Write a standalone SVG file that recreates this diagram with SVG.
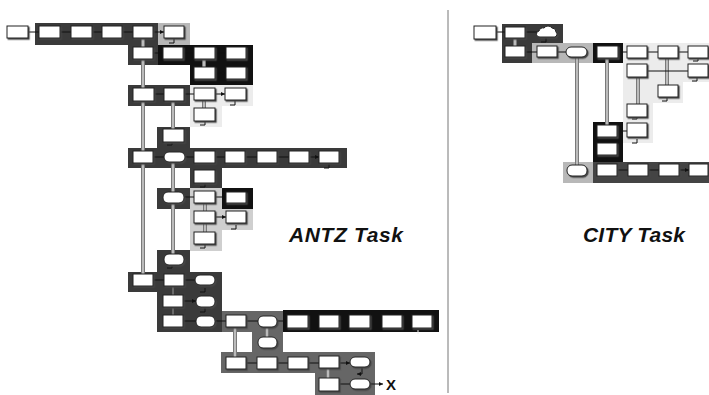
<svg xmlns="http://www.w3.org/2000/svg" width="709" height="395" viewBox="0 0 709 395">
<style>
.b{fill:#fff;stroke:#222;stroke-width:1;filter:url(#sh)}
.o{fill:#fff;stroke:#222;stroke-width:1;filter:url(#sh)}
.dk{fill:#3a3a3a}.bk{fill:#111}.lg{fill:#b8b8b8}.vl{fill:#ececec}.mg{fill:#666}.ml{fill:#cfcfcf}.d2{fill:#444}
.a{stroke:#111;stroke-width:1;fill:none;marker-end:url(#ah)}
.r{stroke:#111;stroke-width:1;fill:none;marker-end:url(#ah)}
.dlo{stroke:#7a7a7a;stroke-width:4;fill:none}
.dli{stroke:#d8d8d8;stroke-width:1.4;fill:none}
.t{font-family:"Liberation Sans",Arial,sans-serif;font-weight:bold;font-style:italic;font-size:21px;fill:#111}
</style>
<defs>
<filter id="sh" x="-20%" y="-20%" width="150%" height="160%"><feDropShadow dx="1.2" dy="1.3" stdDeviation="0.4" flood-color="#444"/></filter>
<marker id="ah" viewBox="0 0 6 6" refX="6" refY="3" markerWidth="4" markerHeight="4" markerUnits="userSpaceOnUse" orient="auto"><path d="M0,0L6,3L0,6z" fill="#111"/></marker>
</defs>
<rect width="709" height="395" fill="#fff"/>
<g id="containers">
<rect class="dk" x="35" y="23" width="123" height="22"/>
<rect class="lg" x="158" y="23" width="32" height="22"/>
<rect class="dk" x="128" y="45" width="30" height="20"/>
<path class="bk" d="M158,45H253V85H190V65H158z"/>
<rect class="dk" x="128" y="85" width="62" height="21"/>
<path class="vl" d="M190,85H253V106H222V127H190z"/>
<rect class="dk" x="157" y="127" width="33" height="21"/>
<rect class="dk" x="128" y="148" width="219" height="20"/>
<rect class="dk" x="190" y="168" width="32" height="20"/>
<rect class="dk" x="157" y="188" width="33" height="21"/>
<path class="ml" d="M190,188H253V230H222V251H190z"/>
<rect class="bk" x="222" y="188" width="31" height="21"/>
<rect class="dk" x="157" y="250" width="33" height="22"/>
<path class="dk" d="M128,272H222V332H157V292H128z"/>
<path class="mg" d="M222,311H283V352H375V395H315V373H221V352H252V332H222z"/>
<rect class="bk" x="283" y="310" width="156" height="22"/>
<path class="dk" d="M502,24H563V43H532V63H502z"/>
<rect class="lg" x="532" y="43" width="61" height="20"/>
<rect class="bk" x="593" y="43" width="30" height="20"/>
<path class="vl" d="M623,43H709V82H683V103H653V143H623z"/>
<rect class="bk" x="593" y="122" width="30" height="40"/>
<rect class="lg" x="563" y="162" width="30" height="21"/>
<rect class="d2" x="593" y="162" width="116" height="21"/>
</g>
<g id="connectors">
<g class="dlo">
<path d="M143,38V47M143,59V88M143,101V274M204,59V67M173,101V129M204,100V108M173,162V255M205,203V211M205,223V232M235,327V357M267,326V337M328,368V378"/>
<path d="M515,39V46M577,57V165M607,58V125M638,76V104M667,58V85"/>
</g>
<g class="dli">
<path d="M143,38V47M143,59V88M143,101V274M204,59V67M173,101V129M204,100V108M173,162V255M205,203V211M205,223V232M235,327V357M267,326V337M328,368V378"/>
<path d="M515,39V46M577,57V165M607,58V125M638,76V104M667,58V85"/>
</g>
<path d="M173,286V315" stroke="#999" stroke-width="1" fill="none"/>
<g class="a">
<path d="M28,32H39M60,32H71M92,32H102M122,32H133M153,32H164"/>
<path d="M153,53H163M183,53H194M215,53H226M215,73H226"/>
<path d="M154,94H164M184,94H194M215,94H225"/>
<path d="M153,157H164M184,157H194M215,157H225M245,157H257M277,157H289M309,157H319"/>
<path d="M183,197H194M214,197H226M214,217H226"/>
<path d="M153,280H164M184,280H195M183,301H196"/>
<path d="M183,321H196M216,321H226M246,321H258M278,321H287"/>
<path d="M246,363H257M277,363H288M308,363H319M339,363H350"/>
<path d="M339,384H350M370,384H383"/>
<path d="M496,32H505M525,32H537M525,52H537M557,52H566M618,52H627M647,52H658M678,52H688M647,71H688M617,131H627M617,170H628M648,170H659M679,170H689"/>
</g>
<g class="r">
<path d="M174,39V43H169M237,59V63H232M236,79V83H231M235,101V105H230M205,121V125H200M172,141V145H167M329,164V168H324M205,183V187H200M236,204V208H231M236,225V229H231M205,244V248H200M172,264V268H167M205,288V292H200M205,308V312H200M362,368V374H357"/>
<path d="M546,38V42H541M698,57V61H693M697,77V81H692M667,97V101H662M637,115V119H632M637,139V143H632M607,156V160H602"/>
</g>
<path d="M418,330V334" stroke="#eee" stroke-width="1"/>
</g>
<g id="n1"><rect class="b" x="7" y="26" width="21" height="12"/></g>
<g id="n2"><rect class="b" x="39" y="26" width="21" height="12"/></g>
<g id="n3"><rect class="b" x="71" y="26" width="21" height="12"/></g>
<g id="n4"><rect class="b" x="102" y="26" width="20" height="12"/></g>
<g id="n5"><rect class="b" x="133" y="26" width="20" height="12"/></g>
<g id="n6"><rect class="b" x="164" y="26" width="20" height="12"/></g>
<g id="n7"><rect class="b" x="133" y="47" width="20" height="12"/></g>
<g id="n8"><rect class="b" x="163" y="47" width="20" height="12"/></g>
<g id="n9"><rect class="b" x="194" y="47" width="21" height="12"/></g>
<g id="n10"><rect class="b" x="226" y="47" width="20" height="12"/></g>
<g id="n11"><rect class="b" x="194" y="67" width="21" height="12"/></g>
<g id="n12"><rect class="b" x="226" y="67" width="20" height="12"/></g>
<g id="n13"><rect class="b" x="133" y="88" width="21" height="13"/></g>
<g id="n14"><rect class="b" x="164" y="88" width="20" height="13"/></g>
<g id="n15"><rect class="b" x="194" y="88" width="21" height="12"/></g>
<g id="n16"><rect class="b" x="225" y="88" width="21" height="12"/></g>
<g id="n17"><rect class="b" x="194" y="108" width="21" height="13"/></g>
<g id="n18"><rect class="b" x="163" y="129" width="21" height="13"/></g>
<g id="n19"><rect class="b" x="133" y="151" width="20" height="12"/></g>
<g id="n20"><rect class="o" x="164" y="152" width="21" height="10" rx="5"/></g>
<g id="n21"><rect class="b" x="194" y="151" width="21" height="12"/></g>
<g id="n22"><rect class="b" x="225" y="151" width="20" height="12"/></g>
<g id="n23"><rect class="b" x="257" y="151" width="20" height="12"/></g>
<g id="n24"><rect class="b" x="289" y="151" width="20" height="12"/></g>
<g id="n25"><rect class="b" x="319" y="151" width="20" height="12"/></g>
<g id="n26"><rect class="b" x="194" y="170" width="21" height="13"/></g>
<g id="n27"><rect class="o" x="163" y="192" width="21" height="11" rx="5"/></g>
<g id="n28"><rect class="b" x="194" y="191" width="21" height="12"/></g>
<g id="n29"><rect class="b" x="226" y="192" width="20" height="11"/></g>
<g id="n30"><rect class="b" x="194" y="211" width="21" height="12"/></g>
<g id="n31"><rect class="b" x="226" y="211" width="20" height="12"/></g>
<g id="n32"><rect class="b" x="194" y="232" width="21" height="12"/></g>
<g id="n33"><rect class="o" x="164" y="254" width="20" height="11" rx="5"/></g>
<g id="n34"><rect class="b" x="133" y="274" width="20" height="12"/></g>
<g id="n35"><rect class="b" x="164" y="274" width="20" height="12"/></g>
<g id="n36"><rect class="o" x="195" y="275" width="20" height="10" rx="5"/></g>
<g id="n37"><rect class="b" x="163" y="295" width="20" height="12"/></g>
<g id="n38"><rect class="o" x="196" y="296" width="19" height="11" rx="5"/></g>
<g id="n39"><rect class="b" x="163" y="315" width="20" height="12"/></g>
<g id="n40"><rect class="o" x="196" y="316" width="19" height="11" rx="5"/></g>
<g id="n41"><rect class="b" x="226" y="315" width="20" height="12"/></g>
<g id="n42"><rect class="o" x="258" y="316" width="19" height="11" rx="5"/></g>
<g id="n43"><rect class="b" x="287" y="315" width="21" height="13"/></g>
<g id="n44"><rect class="b" x="319" y="315" width="20" height="13"/></g>
<g id="n45"><rect class="b" x="349" y="315" width="21" height="13"/></g>
<g id="n46"><rect class="b" x="382" y="315" width="20" height="13"/></g>
<g id="n47"><rect class="b" x="412" y="315" width="20" height="13"/></g>
<g id="n48"><rect class="o" x="258" y="337" width="19" height="11" rx="5"/></g>
<g id="n49"><rect class="b" x="226" y="357" width="20" height="12"/></g>
<g id="n50"><rect class="b" x="257" y="357" width="20" height="12"/></g>
<g id="n51"><rect class="b" x="288" y="357" width="20" height="12"/></g>
<g id="n52"><rect class="b" x="319" y="356" width="20" height="12"/></g>
<g id="n53"><rect class="o" x="350" y="357" width="20" height="10" rx="5"/></g>
<g id="n54"><rect class="b" x="319" y="378" width="20" height="13"/></g>
<g id="n55"><rect class="o" x="350" y="379" width="20" height="10" rx="5"/></g>
<g id="end"><text x="386" y="389.5" font-family="Liberation Sans,Arial,sans-serif" font-weight="bold" font-size="15" fill="#111">X</text></g>
<g id="c1"><rect class="b" x="474" y="26" width="22" height="13"/></g>
<g id="c2"><rect class="b" x="505" y="27" width="20" height="11"/></g>
<g id="c3"><path class="o" d="M540,37a3,3 0 0 1 -1,-6a4,4 0 0 1 5,-3a5,5 0 0 1 8,0a4,4 0 0 1 4,4a3,3 0 0 1 -1,5z"/></g>
<g id="c4"><rect class="b" x="505" y="46" width="20" height="11"/></g>
<g id="c5"><rect class="b" x="537" y="46" width="20" height="11"/></g>
<g id="c6"><rect class="o" x="566" y="47" width="21" height="10" rx="5"/></g>
<g id="c7"><rect class="b" x="597" y="46" width="21" height="12"/></g>
<g id="c8"><rect class="b" x="627" y="46" width="20" height="12"/></g>
<g id="c9"><rect class="b" x="658" y="46" width="20" height="12"/></g>
<g id="c10"><rect class="b" x="688" y="46" width="20" height="12"/></g>
<g id="c11"><rect class="b" x="627" y="64" width="20" height="13"/></g>
<g id="c12"><rect class="b" x="688" y="64" width="20" height="13"/></g>
<g id="c13"><rect class="b" x="658" y="85" width="20" height="12"/></g>
<g id="c14"><rect class="b" x="627" y="104" width="20" height="13"/></g>
<g id="c15"><rect class="b" x="627" y="123" width="20" height="14"/></g>
<g id="c16"><rect class="b" x="597" y="125" width="20" height="12"/></g>
<g id="c17"><rect class="b" x="597" y="143" width="20" height="12"/></g>
<g id="c18"><rect class="o" x="567" y="165" width="20" height="11" rx="5"/></g>
<g id="c19"><rect class="b" x="597" y="164" width="20" height="12"/></g>
<g id="c20"><rect class="b" x="628" y="164" width="20" height="12"/></g>
<g id="c21"><rect class="b" x="659" y="164" width="20" height="12"/></g>
<g id="c22"><rect class="b" x="689" y="164" width="19" height="12"/></g>
<line x1="448" y1="10" x2="448" y2="393" stroke="#777" stroke-width="1"/>
<text class="t" x="289" y="242" textLength="114" lengthAdjust="spacing">ANTZ Task</text>
<text class="t" x="583" y="242" textLength="102" lengthAdjust="spacing">CITY Task</text>
</svg>
